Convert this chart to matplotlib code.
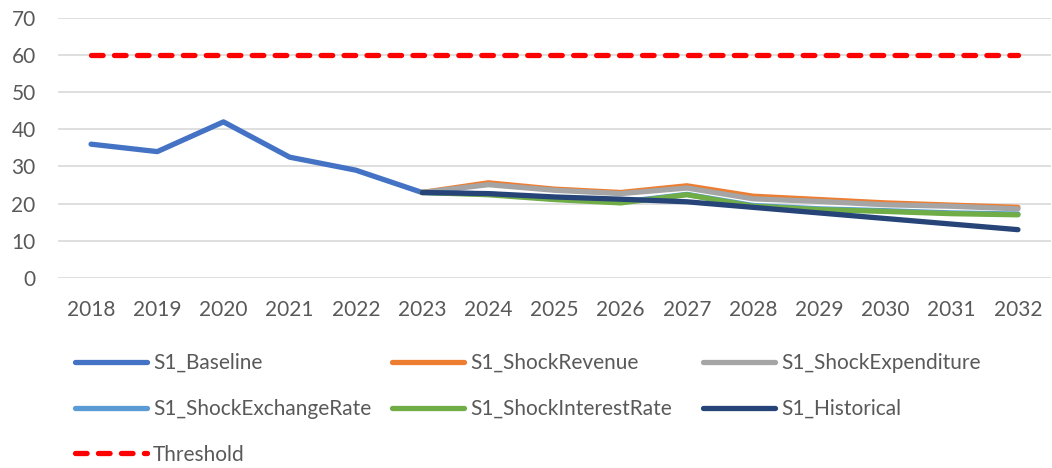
import numpy as np
import matplotlib.pyplot as plt

plt.rcParams['font.family'] = ['Lato', 'DejaVu Sans']

years = [str(y) for y in range(2018, 2033)]
nan = np.nan

baseline = [36.0, 34.0, 42.0, 32.5, 29.0, 23.0] + [nan] * 9
shock_revenue = [nan] * 5 + [23.0, 25.6, 23.9, 23.0, 24.8, 22.0, 21.1, 20.2, 19.6, 19.0]
shock_expenditure = [nan] * 5 + [23.0, 25.1, 23.6, 22.7, 24.2, 21.3, 20.6, 19.7, 19.3, 18.6]
shock_exchange = [nan] * 5 + [23.0, 22.6, 21.3, 20.4, 22.5, 19.5, 18.6, 18.1, 17.5, 17.2]
shock_interest = [nan] * 5 + [23.0, 22.4, 21.1, 20.2, 22.4, 19.3, 18.4, 17.9, 17.3, 17.0]
historical = [nan] * 5 + [23.0, 22.7, 21.8, 21.2, 20.5, 19.0, 17.5, 16.0, 14.5, 13.0]
threshold = [60] * 15

x = np.arange(len(years))

fig = plt.figure(figsize=(10.52, 4.68), dpi=100)
ax = fig.add_axes([0.0551, 0.406, 0.944, 0.556])

lw = 3.8
h_base, = ax.plot(x, baseline, color='#4472C4', lw=lw, label='S1_Baseline', solid_capstyle='round')
h_rev, = ax.plot(x, shock_revenue, color='#ED7D31', lw=lw, label='S1_ShockRevenue', solid_capstyle='round')
h_exp, = ax.plot(x, shock_expenditure, color='#A5A5A5', lw=lw, label='S1_ShockExpenditure', solid_capstyle='round')
h_exr, = ax.plot(x, shock_exchange, color='#5B9BD5', lw=lw, label='S1_ShockExchangeRate', solid_capstyle='round')
h_int, = ax.plot(x, shock_interest, color='#70AD47', lw=lw, label='S1_ShockInterestRate', solid_capstyle='round')
h_his, = ax.plot(x, historical, color='#264478', lw=lw, label='S1_Historical', solid_capstyle='round')
h_thr, = ax.plot(x, threshold, color='#FF0000', lw=lw, ls=(0, (2.2, 2.15)), label='Threshold', dash_capstyle='round')

ax.set_xlim(-0.5, len(years) - 0.5)
ax.set_ylim(0, 70)
ax.set_yticks(range(0, 71, 10))
ax.set_xticks(x)
ax.set_xticklabels(years)
ax.grid(axis='y', color='#D9D9D9', lw=1.2)
ax.set_axisbelow(True)
for s in ax.spines.values():
    s.set_visible(False)
ax.tick_params(length=0, labelsize=15, colors='#595959')
ax.tick_params(axis='x', pad=16)
ax.tick_params(axis='y', pad=16)

# Excel lays the legend out row by row in equal-width columns,
# so build one single-column legend per column
columns = [[h_base, h_exr, h_thr], [h_rev, h_int], [h_exp, h_his]]
col_x = [0.0713, 0.3726, 0.6683]
for handles, cx in zip(columns, col_x):
    leg = fig.legend(handles=handles, labels=[h.get_label() for h in handles],
                     loc='upper left', bbox_to_anchor=(cx, 0.2457), ncol=1, frameon=False,
                     fontsize=15, handlelength=3.45, handletextpad=0.3,
                     labelspacing=1.24, labelcolor='#595959', borderaxespad=0, borderpad=0)

fig.savefig('out.png', dpi=100)
